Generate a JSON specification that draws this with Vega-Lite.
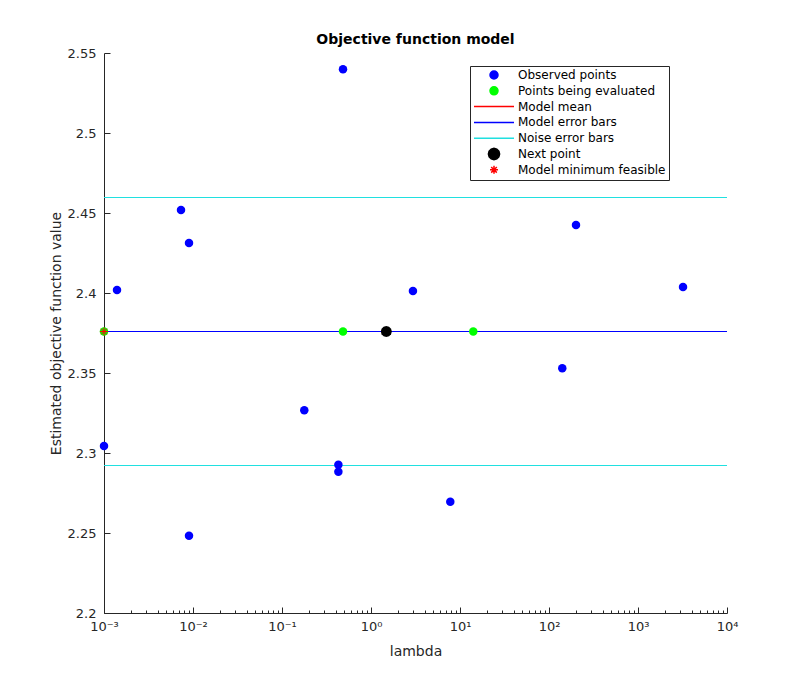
{
  "$schema": "https://vega.github.io/schema/vega-lite/v6.json",
  "description": "Objective function model, lambda on a log axis.",
  "width": 623,
  "height": 560,
  "autosize": {"type": "none"},
  "padding": {"left": 104, "top": 53, "right": 76, "bottom": 77},
  "background": "white",
  "title": {"text": "Objective function model", "anchor": "middle", "frame": "group", "offset": 6, "dy": 6, "fontSize": 14, "fontWeight": "bold", "color": "#000000", "font": "DejaVu Sans"},
  "datasets": {
    "observed": [
      {"series": "Observed points", "lambda": 0.001, "value": 2.3044},
      {"series": "Observed points", "lambda": 0.0014, "value": 2.4019},
      {"series": "Observed points", "lambda": 0.00733, "value": 2.4519},
      {"series": "Observed points", "lambda": 0.00902, "value": 2.4312},
      {"series": "Observed points", "lambda": 0.00902, "value": 2.2483},
      {"series": "Observed points", "lambda": 0.178, "value": 2.3267},
      {"series": "Observed points", "lambda": 0.43, "value": 2.2927},
      {"series": "Observed points", "lambda": 0.43, "value": 2.2883},
      {"series": "Observed points", "lambda": 0.4846, "value": 2.5398},
      {"series": "Observed points", "lambda": 2.96, "value": 2.4013},
      {"series": "Observed points", "lambda": 7.78, "value": 2.2696},
      {"series": "Observed points", "lambda": 141, "value": 2.3529},
      {"series": "Observed points", "lambda": 201, "value": 2.4425},
      {"series": "Observed points", "lambda": 3206, "value": 2.4038}
    ],
    "evaluated": [
      {"series": "Points being evaluated", "lambda": 0.001, "value": 2.3759},
      {"series": "Points being evaluated", "lambda": 0.4846, "value": 2.3759},
      {"series": "Points being evaluated", "lambda": 14.1, "value": 2.3759}
    ],
    "lines": [
      {"series": "Model mean", "value": 2.3759375},
      {"series": "Model error bars", "value": 2.3759375},
      {"series": "Noise error bars", "value": 2.4596875},
      {"series": "Noise error bars", "value": 2.2921875}
    ],
    "next": [
      {"series": "Next point", "lambda": 1.486, "value": 2.3759}
    ],
    "minimum": [
      {"series": "Model minimum feasible", "lambda": 0.001, "value": 2.3759}
    ]
  },
  "layer": [
    {
      "data": {"name": "lines"},
      "mark": {"type": "rule", "strokeWidth": 1},
      "encoding": {
        "y": {
          "field": "value", "type": "quantitative",
          "scale": {"domain": [2.2, 2.55], "nice": false, "zero": false},
          "axis": {
            "title": "Estimated objective function value",
            "values": [2.2, 2.25, 2.3, 2.35, 2.4, 2.45, 2.5, 2.55],
            "format": "~g", "tickSize": -6, "labelPadding": 14, "titlePadding": 4, "grid": false
          }
        },
        "color": {
          "field": "series", "type": "nominal",
          "scale": {
            "domain": ["Observed points", "Points being evaluated", "Model mean", "Model error bars", "Noise error bars", "Next point", "Model minimum feasible"],
            "range": ["#0000ff", "#00ff00", "#ff0000", "#0000ff", "#20e0e0", "#000000", "#ff0000"]
          }
        }
      }
    },
    {
      "data": {"name": "observed"},
      "mark": {"type": "point", "filled": true, "size": 72, "opacity": 1},
      "encoding": {
        "x": {
          "field": "lambda", "type": "quantitative",
          "scale": {"type": "log", "domain": [0.001, 10000], "nice": false},
          "axis": {
            "orient": "bottom", "title": null, "labels": false, "domain": false, "grid": false,
            "tickSize": -3, "tickColor": "#262626", "tickWidth": 1,
            "values": [0.002, 0.003, 0.004, 0.005, 0.006, 0.007, 0.008, 0.009,
                       0.02, 0.03, 0.04, 0.05, 0.06, 0.07, 0.08, 0.09,
                       0.2, 0.3, 0.4, 0.5, 0.6, 0.7, 0.8, 0.9,
                       2, 3, 4, 5, 6, 7, 8, 9,
                       20, 30, 40, 50, 60, 70, 80, 90,
                       200, 300, 400, 500, 600, 700, 800, 900,
                       2000, 3000, 4000, 5000, 6000, 7000, 8000, 9000]
          }
        },
        "y": {"field": "value", "type": "quantitative"},
        "color": {
          "field": "series", "type": "nominal",
          "legend": {
            "title": null, "orient": "none", "legendX": 366, "legendY": 13,
            "padding": 3, "rowPadding": -2.2, "gridAlign": "all", "symbolSize": 64, "symbolOffset": 15, "labelOffset": 18,
            "labelFontSize": 12, "labelFont": "DejaVu Sans", "labelColor": "#000000",
            "strokeColor": "#262626", "fillColor": "white",
            "encode": {
              "symbols": {
                "update": {
                  "fill": [
                    {"test": "indexof(['Model mean', 'Model error bars', 'Noise error bars', 'Model minimum feasible'], datum.value) >= 0", "value": "transparent"},
                    {"scale": "color", "field": "value"}
                  ],
                  "stroke": {"scale": "color", "field": "value"},
                  "strokeWidth": {"value": 1},
                  "size": {"value": 64},
                  "opacity": {"value": 1}
                }
              }
            }
          }
        },
        "shape": {
          "field": "series", "type": "nominal",
          "scale": {
            "domain": ["Observed points", "Points being evaluated", "Model mean", "Model error bars", "Noise error bars", "Next point", "Model minimum feasible"],
            "range": [
              "circle",
              "circle",
              "M-5,0H5",
              "M-5,0H5",
              "M-5,0H5",
              "M1.4,0L1.21,0.7L0.7,1.21L0,1.4L-0.7,1.21L-1.21,0.7L-1.4,0L-1.21,-0.7L-0.7,-1.21L0,-1.4L0.7,-1.21L1.21,-0.7Z",
              "M-1,0H1M0,-1V1M-0.7,-0.7L0.7,0.7M-0.7,0.7L0.7,-0.7"
            ]
          },
          "legend": {
            "title": null, "orient": "none", "legendX": 366, "legendY": 13,
            "padding": 3, "rowPadding": -2.2, "gridAlign": "all", "symbolSize": 64, "symbolOffset": 15, "labelOffset": 18,
            "labelFontSize": 12, "labelFont": "DejaVu Sans", "labelColor": "#000000",
            "strokeColor": "#262626", "fillColor": "white"
          }
        }
      }
    },
    {
      "data": {"name": "evaluated"},
      "mark": {"type": "point", "filled": true, "size": 72, "opacity": 1},
      "encoding": {
        "x": {
          "field": "lambda", "type": "quantitative",
          "axis": {
            "orient": "bottom", "title": "lambda", "grid": false,
            "values": [0.001, 0.01, 0.1, 1, 10, 100, 1000, 10000],
            "labelExpr": "'10' + ['⁻³', '⁻²', '⁻¹', '⁰', '¹', '²', '³', '⁴'][round(log(datum.value) / LN10) + 3]",
            "labelFlush": false, "labelOverlap": false, "labelBound": false,
            "tickSize": -6, "labelPadding": 13, "titlePadding": 11
          }
        },
        "y": {"field": "value", "type": "quantitative"},
        "color": {"field": "series", "type": "nominal"},
        "shape": {"field": "series", "type": "nominal"}
      }
    },
    {
      "data": {"name": "next"},
      "mark": {"type": "point", "filled": true, "size": 62, "opacity": 1},
      "encoding": {
        "x": {"field": "lambda", "type": "quantitative", "axis": null},
        "y": {"field": "value", "type": "quantitative"},
        "color": {"field": "series", "type": "nominal"},
        "shape": {"field": "series", "type": "nominal"}
      }
    },
    {
      "data": {"name": "minimum"},
      "mark": {"type": "point", "filled": false, "size": 67, "strokeWidth": 1, "opacity": 1},
      "encoding": {
        "x": {"field": "lambda", "type": "quantitative", "axis": null},
        "y": {"field": "value", "type": "quantitative"},
        "color": {"field": "series", "type": "nominal"},
        "shape": {"field": "series", "type": "nominal"}
      }
    }
  ],
  "resolve": {"axis": {"x": "independent"}},
  "config": {
    "font": "DejaVu Sans",
    "view": {"stroke": null},
    "axis": {
      "grid": false, "domainColor": "#262626", "domainWidth": 1, "tickColor": "#262626", "tickWidth": 1,
      "labelColor": "#262626", "labelFontSize": 13, "labelFont": "DejaVu Sans",
      "titleColor": "#262626", "titleFontSize": 14, "titleFont": "DejaVu Sans", "titleFontWeight": "normal"
    }
  }
}
